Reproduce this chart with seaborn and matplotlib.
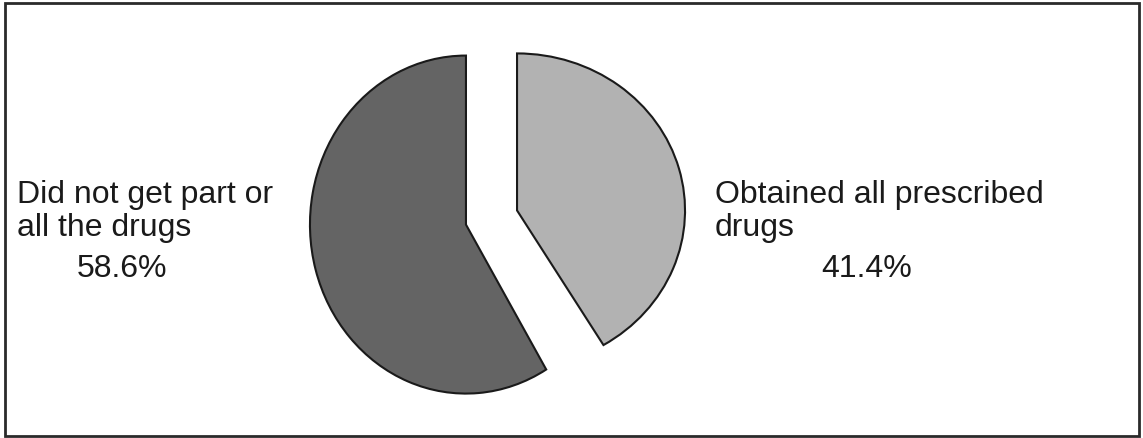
import matplotlib
matplotlib.use('Agg')
import matplotlib.pyplot as plt
import matplotlib.transforms as mtransforms
import numpy as np
import seaborn as sns
from matplotlib.patches import Rectangle

# Data
categories = ['Obtained all prescribed\ndrugs', 'Did not get part or\nall the drugs']
shares = [41.4, 58.6]
pct_labels = ['41.4%', '58.6%']
slice_colors = ['#b2b2b2', '#646464']

sns.set_style('white')
plt.rcParams['font.family'] = ['Liberation Sans', 'DejaVu Sans']

W, H = 1143, 439
fig = plt.figure(figsize=(W / 100, H / 100), dpi=100)
ax = fig.add_axes([0, 0, 1, 1])

# unit pie, then each wedge is placed / stretched like the scanned original
wedges, _ = ax.pie(shares, colors=slice_colors, startangle=90, counterclock=False,
                   center=(0, 0), radius=1,
                   wedgeprops=dict(edgecolor='#1a1a1a', linewidth=1.5))
ax.set_xlim(0, W)
ax.set_ylim(0, H)
ax.set_aspect('equal')
ax.axis('off')

cx, cy = 491.5, H - 218.5
pull = 26.5
rx = [168, 156]
ry = [157, 169]
for i, w in enumerate(wedges):
    mid = np.deg2rad((w.theta1 + w.theta2) / 2)
    ox, oy = pull * np.cos(mid), pull * np.sin(mid)
    tr = mtransforms.Affine2D().scale(rx[i], ry[i]).translate(cx + ox, cy + oy)
    w.set_transform(tr + ax.transData)

# category labels and percentages
fs = 23
ax.text(17, H - 180, categories[1], ha='left', va='top', fontsize=fs,
        linespacing=1.12, color='#1a1a1a')
ax.text(122, H - 277, pct_labels[1], ha='center', va='baseline', fontsize=fs,
        color='#1a1a1a')
ax.text(715, H - 180, categories[0], ha='left', va='top', fontsize=fs,
        linespacing=1.12, color='#1a1a1a')
ax.text(867, H - 277, pct_labels[0], ha='center', va='baseline', fontsize=fs,
        color='#1a1a1a')

# frame around the chart
ax.add_patch(Rectangle((5, 2), 1134, 433, fill=False, edgecolor='#2a2a2a',
                       linewidth=2, clip_on=False))

fig.savefig('out.png', dpi=100)
